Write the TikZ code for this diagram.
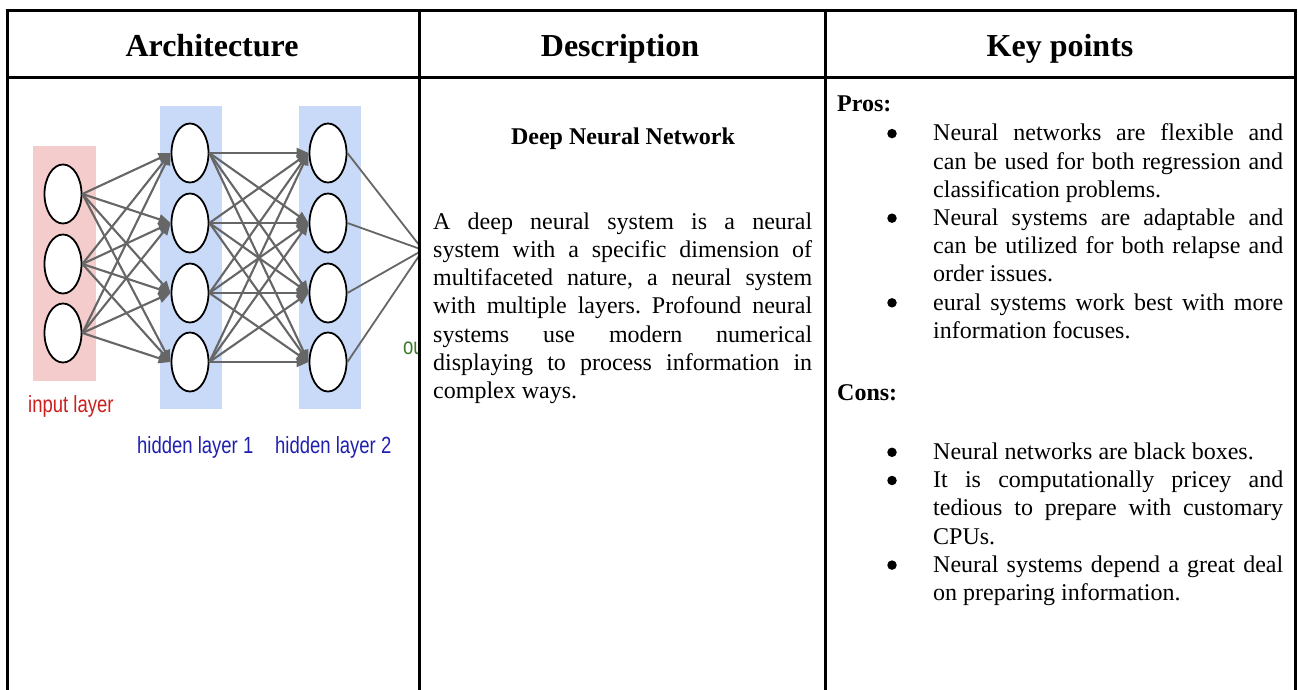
\documentclass[tikz,border=0pt]{standalone}
\usepackage{fontspec}
\usepackage{graphicx}
\setmainfont{Liberation Serif}
\newfontfamily\netfont{Liberation Sans}
\usetikzlibrary{shapes.geometric,arrows.meta}
\tolerance=9999
\hbadness=10000
\frenchspacing

\definecolor{edgegray}{HTML}{666666}
\definecolor{inbg}{HTML}{F4CCCC}
\definecolor{hidbg}{HTML}{C9DAF8}
\definecolor{inred}{HTML}{CC1F1F}
\definecolor{hidblue}{HTML}{2020B0}
\definecolor{outgreen}{HTML}{3A7A28}

\tikzset{
  rule/.style={line width=3pt, black},
  neuron/.style={ellipse, draw=black, line width=1.8pt, fill=white,
    minimum width=37pt, minimum height=59pt, inner sep=0pt},
  layerbg/.style={rectangle, inner sep=0pt, draw=none},
  synapse/.style={draw=edgegray, line width=2.1pt, -{Triangle[length=12pt,width=10pt]}},
  outlink/.style={draw=edgegray, line width=1.8pt},
  head/.style={font=\fontsize{32}{38}\selectfont\bfseries, inner sep=0pt, anchor=base},
  bodybold/.style={font=\fontsize{24}{28.2}\selectfont\bfseries, inner sep=0pt},
  body/.style={font=\fontsize{24}{28.2}\selectfont, inner sep=0pt, align=justify, anchor=north west},
  dot/.style={circle, fill=black, minimum size=9.5pt, inner sep=0pt},
  netlabel/.style={font=\netfont\fontsize{23.4}{28}\selectfont, inner sep=0pt, anchor=base west},
}

\begin{document}
\begin{tikzpicture}[x=1pt, y=-1pt]
\useasboundingbox (0,0) rectangle (1298,690);
\fill[white] (0,0) rectangle (1298,690);

% ---------- network sketch in the first cell ----------
\begin{scope}
  \clip (7,79) rectangle (419,690);
  \node[layerbg, fill=inbg,  minimum width=63pt, minimum height=235pt] (inband) at (64.5,263.5) {};
  \node[layerbg, fill=hidbg, minimum width=62pt, minimum height=303pt] (h1band) at (191,257.5) {};
  \node[layerbg, fill=hidbg, minimum width=62pt, minimum height=303pt] (h2band) at (330,257.5) {};

  \foreach \k/\y in {1/194,2/264,3/333}
    \node[neuron] (i\k) at (63,\y) {};
  \foreach \k/\y in {1/153,2/223,3/293,4/362} {
    \node[neuron] (a\k) at (190,\y) {};
    \node[neuron] (b\k) at (328,\y) {};
  }
  \coordinate (out) at (423,250);

  \foreach \s in {1,2,3}
    \foreach \t in {1,...,4}
      \draw[synapse] (i\s.east) -- (a\t.west);
  \foreach \s in {1,...,4}
    \foreach \t in {1,...,4}
      \draw[synapse] (a\s.east) -- (b\t.west);
  \foreach \s in {1,...,4}
    \draw[outlink] (b\s.east) -- (out);

  \node[netlabel, text=inred]    (inlbl)  at (28,412)    {\scalebox{0.79}[1]{input layer}};
  \node[netlabel, text=hidblue]  (h1lbl)  at (137,453.5) {\scalebox{0.79}[1]{hidden layer 1}};
  \node[netlabel, text=hidblue]  (h2lbl)  at (275,453.5) {\scalebox{0.79}[1]{hidden layer 2}};
  \node[netlabel, text=outgreen] (outlbl) at (403,354)   {\scalebox{0.79}[1]{ou}};
\end{scope}

% ---------- table rules ----------
\draw[rule] (5.5,11) -- (1296.5,11);
\draw[rule] (5.5,78) -- (1296.5,78);
\foreach \x in {7,419,825,1295}
  \draw[rule] (\x,9.5) -- (\x,690);

% ---------- header row ----------
\node[head] (hArch) at (212,57)  {Architecture};
\node[head] (hDesc) at (620,57)  {Description};
\node[head] (hKey)  at (1060,57) {Key points};

% ---------- description cell ----------
\node[bodybold, anchor=base] (dnnTitle) at (623,145) {Deep Neural Network};
\node[body, text width=379pt] (dnnText) at (433,{229-19.74}) {\strut A deep neural system is a neural\linebreak
  system with a specific dimension of\linebreak
  multifaceted nature, a neural system\linebreak
  with multiple layers. Profound neural\linebreak
  systems use modern numerical\linebreak
  displaying to process information in\linebreak
  complex ways.};

% ---------- key points cell ----------
\node[bodybold, anchor=base west] (pros) at (837,112) {Pros:};
\node[dot] (pd1) at (892,{140.6-7}) {};
\node[body, text width=350pt] (p1) at (933,{140.6-19.74}) {\strut Neural networks are flexible and\linebreak
  can be used for both regression and\linebreak classification problems.};
\node[dot] (pd2) at (892,{225.2-7}) {};
\node[body, text width=350pt] (p2) at (933,{225.2-19.74}) {\strut Neural systems are adaptable and\linebreak
  can be utilized for both relapse and\linebreak order issues.};
\node[dot] (pd3) at (892,{309.8-7}) {};
\node[body, text width=350pt] (p3) at (933,{309.8-19.74}) {\strut eural systems work best with more\linebreak
  information focuses.};

\node[bodybold, anchor=base west] (cons) at (837,400) {Cons:};
\node[dot] (cd1) at (892,{459.3-7}) {};
\node[body, text width=350pt] (c1) at (933,{459.3-19.74}) {\strut Neural networks are black boxes.};
\node[dot] (cd2) at (892,{487.5-7}) {};
\node[body, text width=350pt] (c2) at (933,{487.5-19.74}) {\strut It is computationally pricey and\linebreak
  tedious to prepare with customary\linebreak CPUs.};
\node[dot] (cd3) at (892,{572.1-7}) {};
\node[body, text width=350pt] (c3) at (933,{572.1-19.74}) {\strut Neural systems depend a great deal\linebreak
  on preparing information.};
\end{tikzpicture}
\end{document}
